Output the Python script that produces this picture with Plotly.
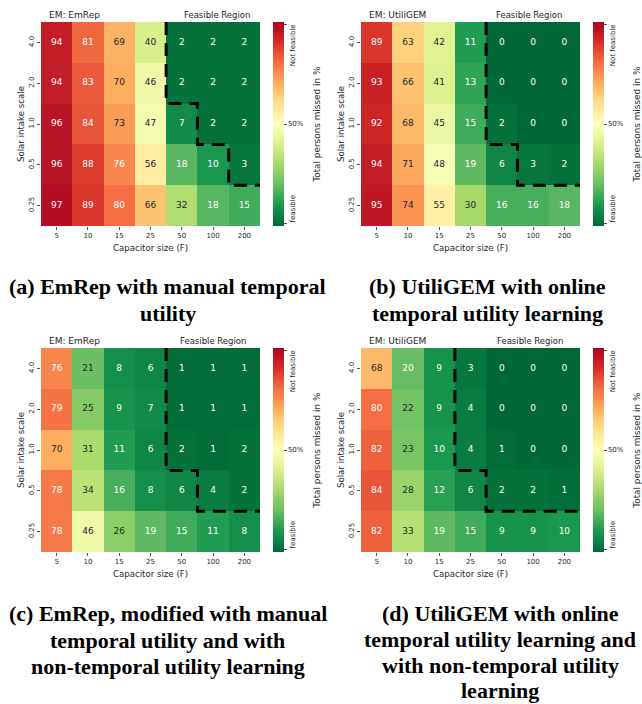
import plotly.graph_objects as go

# ---------------- data ----------------
capacitor_sizes = ["5", "10", "15", "25", "50", "100", "200"]
solar_scales = ["4.0", "2.0", "1.0", "0.5", "0.25"]

emrep_manual = [
    [94, 81, 69, 40, 2, 2, 2],
    [94, 83, 70, 46, 2, 2, 2],
    [96, 84, 73, 47, 7, 2, 2],
    [96, 88, 76, 56, 18, 10, 3],
    [97, 89, 80, 66, 32, 18, 15],
]
utiligem_online = [
    [89, 63, 42, 11, 0, 0, 0],
    [93, 66, 41, 13, 0, 0, 0],
    [92, 68, 45, 15, 2, 0, 0],
    [94, 71, 48, 19, 6, 3, 2],
    [95, 74, 55, 30, 16, 16, 18],
]
emrep_modified = [
    [76, 21, 8, 6, 1, 1, 1],
    [79, 25, 9, 7, 1, 1, 1],
    [70, 31, 11, 6, 2, 1, 2],
    [78, 34, 16, 8, 6, 4, 2],
    [78, 46, 26, 19, 15, 11, 8],
]
utiligem_full = [
    [68, 20, 9, 3, 0, 0, 0],
    [80, 22, 9, 4, 0, 0, 0],
    [82, 23, 10, 4, 1, 0, 0],
    [84, 28, 12, 6, 2, 2, 1],
    [82, 33, 19, 15, 9, 9, 10],
]

# first feasible capacitor column per solar row (7 = none feasible)
feasible_start_a = [4, 4, 5, 6, 7]
feasible_start_b = [4, 4, 4, 5, 7]
feasible_start_c = [4, 4, 4, 5, 7]
feasible_start_d = [3, 3, 3, 4, 7]

em_names = ["EM: EmRep", "EM: UtiliGEM", "EM: EmRep", "EM: UtiliGEM"]

captions_a = ["(a) EmRep with manual temporal", "utility"]
captions_b = ["(b) UtiliGEM with online", "temporal utility learning"]
captions_c = ["(c) EmRep, modified with manual", "temporal utility and with",
              "non-temporal utility learning"]
captions_d = ["(d) UtiliGEM with online", "temporal utility learning and",
              "with non-temporal utility", "learning"]

# ---------------- style ----------------
W, H = 642, 704
SANS = "DejaVu Sans"
SERIF = "Liberation Serif"
DARK = "#262626"

rdylgn = [(165, 0, 38), (215, 48, 39), (244, 109, 67), (253, 174, 97),
          (254, 224, 139), (255, 255, 191), (217, 239, 139), (166, 217, 106),
          (102, 189, 99), (26, 152, 80), (0, 104, 55)]
rdylgn_r = rdylgn[::-1]
colorscale = [[i / 10, "rgb(%d,%d,%d)" % c] for i, c in enumerate(rdylgn_r)]


def cmap(v):
    t = max(0.0, min(1.0, v / 100.0)) * 10
    i = min(int(t), 9)
    f = t - i
    a, b = rdylgn_r[i], rdylgn_r[i + 1]
    return [(a[k] + (b[k] - a[k]) * f) / 255.0 for k in range(3)]


def text_color(v):
    rgb = cmap(v)
    lin = [c / 12.92 if c <= 0.03928 else ((c + 0.055) / 1.055) ** 2.4 for c in rgb]
    lum = 0.2126 * lin[0] + 0.7152 * lin[1] + 0.0722 * lin[2]
    return DARK if lum > 0.408 else "white"


def px(x):
    return x / W


def py(y):
    return 1 - y / H


panels = [
    dict(z=emrep_manual, fs=feasible_start_a, dx=0, dy=0, fr=252),
    dict(z=utiligem_online, fs=feasible_start_b, dx=320, dy=0, fr=564),
    dict(z=emrep_modified, fs=feasible_start_c, dx=0, dy=326, fr=248),
    dict(z=utiligem_full, fs=feasible_start_d, dx=320, dy=326, fr=565),
]

fig = go.Figure()
annotations = []
layout = {}

for k, p in enumerate(panels):
    n = "" if k == 0 else str(k + 1)
    dx, dy = p["dx"], p["dy"]
    x0, x1 = 41 + dx, 260 + dx
    y0, y1 = 22 + dy, 226 + dy
    xa, ya, ca = "x" + n, "y" + n, "coloraxis" + n
    z = p["z"]
    nr, nc = len(z), len(z[0])

    fig.add_trace(go.Heatmap(
        z=z, x=list(range(nc)), y=list(range(nr)), coloraxis=ca,
        xaxis=xa, yaxis=ya, hoverinfo="skip"))

    xs, ys, ts, cs = [], [], [], []
    for r in range(nr):
        for c in range(nc):
            xs.append(c)
            ys.append(r)
            ts.append(str(z[r][c]))
            cs.append(text_color(z[r][c]))
    fig.add_trace(go.Scatter(
        x=xs, y=ys, text=ts, mode="text", xaxis=xa, yaxis=ya,
        textfont=dict(family=SANS, size=9, color=cs), hoverinfo="skip",
        showlegend=False))

    # feasible region boundary along cell edges
    fs = p["fs"]
    bx, by = [fs[0] - 0.5], [-0.5]
    for r in range(nr):
        if fs[r] >= nc:
            break
        bx.append(fs[r] - 0.5)
        by.append(r + 0.5)
        nxt = fs[r + 1] if r + 1 < nr else nc
        bx.append(min(nxt, nc) - 0.5)
        by.append(r + 0.5)
    fig.add_trace(go.Scatter(
        x=bx, y=by, mode="lines", xaxis=xa, yaxis=ya,
        line=dict(color="black", width=3, dash="13px,8px"),
        hoverinfo="skip", showlegend=False))

    layout["xaxis" + n] = dict(
        domain=[px(x0), px(x1)], range=[-0.5, nc - 0.5], anchor=ya,
        tickvals=list(range(nc)), ticktext=capacitor_sizes,
        ticks="outside", ticklen=3, tickwidth=0.8, tickcolor=DARK,
        tickfont=dict(family=SANS, size=7, color=DARK),
        showgrid=False, zeroline=False, showline=False, fixedrange=True)
    layout["yaxis" + n] = dict(
        domain=[py(y1), py(y0)], range=[nr - 0.5, -0.5], anchor=xa,
        tickvals=list(range(nr)), ticktext=solar_scales, tickangle=-90,
        ticks="outside", ticklen=3, tickwidth=0.8, tickcolor=DARK,
        tickfont=dict(family=SANS, size=7, color=DARK),
        showgrid=False, zeroline=False, showline=False, fixedrange=True)
    layout[ca] = dict(
        colorscale=colorscale, cmin=0, cmax=100,
        colorbar=dict(
            x=px(273.3 + dx), xanchor="left", xpad=0, ypad=0,
            y=py((y0 + y1) / 2), yanchor="middle",
            len=y1 - y0, lenmode="pixels", thickness=11, thicknessmode="pixels",
            outlinewidth=0, tickvals=[1, 50, 99], ticktext=["", "50%", ""],
            ticks="outside", ticklen=3, tickwidth=0.8, tickcolor=DARK,
            tickfont=dict(family=SANS, size=7, color=DARK)))

    annotations += [
        dict(text=em_names[k], x=px(46.7 + dx), y=py(15 + dy), xanchor="left",
             yanchor="middle", font=dict(family=SANS, size=9, color=DARK)),
        dict(text="Feasible Region", x=px(p["fr"]), y=py(15 + dy),
             xanchor="right", yanchor="middle",
             font=dict(family=SANS, size=8.5, color=DARK)),
        dict(text="Capacitor size (F)", x=px((x0 + x1) / 2), y=py(247.5 + dy),
             xanchor="center", yanchor="middle",
             font=dict(family=SANS, size=8.6, color=DARK)),
        dict(text="Solar intake scale", x=px(21 + dx), y=py((y0 + y1) / 2),
             textangle=-90, xanchor="center", yanchor="middle",
             font=dict(family=SANS, size=8.6, color=DARK)),
        dict(text="Not feasible", x=px(292.7 + dx), y=py(45.5 + dy),
             textangle=-90, xanchor="center", yanchor="middle",
             font=dict(family=SANS, size=7, color=DARK)),
        dict(text="feasible", x=px(292.7 + dx), y=py(208.7 + dy),
             textangle=-90, xanchor="center", yanchor="middle",
             font=dict(family=SANS, size=7, color=DARK)),
        dict(text="Total persons missed in %", x=px(316.7 + dx),
             y=py((y0 + y1) / 2 + 1), textangle=-90, xanchor="center",
             yanchor="middle", font=dict(family=SANS, size=8.9, color=DARK)),
    ]

caption_specs = [
    (captions_a, 167.5, [286.5, 313]),
    (captions_b, 487.0, [286.5, 313]),
    (captions_c, 167.5, [613.5, 640, 666.5]),
    (captions_d, 500.0, [613, 639, 665, 690.5]),
]
for lines, cx, ys in caption_specs:
    for line, yy in zip(lines, ys):
        annotations.append(dict(
            text="<b>%s</b>" % line, x=px(cx), y=py(yy), xanchor="center",
            yanchor="middle", font=dict(family=SERIF, size=22, color="black")))

for a in annotations:
    a.update(xref="paper", yref="paper", showarrow=False)

fig.update_layout(
    width=W, height=H,
    margin=dict(l=0, r=0, t=0, b=0, pad=0, autoexpand=False),
    paper_bgcolor="white", plot_bgcolor="white", showlegend=False,
    annotations=annotations, **layout)

fig.write_html(
    "out.html",
    config={"displayModeBar": False, "staticPlot": True},
    post_script="document.body.style.margin='0px';"
                "document.body.style.overflow='hidden';")
